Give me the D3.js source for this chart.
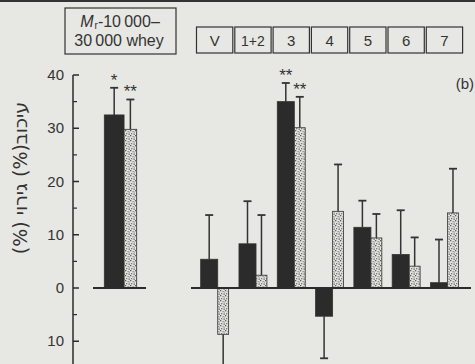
<!DOCTYPE html>
<html>
<head>
<meta charset="utf-8">
<script src="https://cdn.jsdelivr.net/npm/d3@7.9.0/dist/d3.min.js"></script>
<style>
  body { margin: 0; background: #e7e7e4; }
  svg { display: block; font-family: "Liberation Sans", Arial, sans-serif; }
</style>
</head>
<body>
<svg width="475" height="364"></svg>
<script>
// fractions
const groups = ['V', '1+2', '3', '4', '5', '6', '7'];
const darkVals = [5.4, 8.3, 35.0, -5.3, 11.4, 6.3, 1.0];
const darkErr = [8.3, 8.0, 3.5, 7.9, 5.0, 8.3, 8.1];
const dotVals = [-8.7, 2.4, 30.1, 14.4, 9.4, 4.1, 14.1];
const dotErr = [8.0, 11.3, 5.8, 8.8, 4.5, 5.4, 8.3];
const darkStars = ['', '', '**', '', '', '', ''];
const dotStars = ['', '', '**', '', '', '', ''];

// whey (Mr 10000-30000)
const wheyVals = [32.5, 29.8];
const wheyErr = [5.1, 5.6];
const wheyStars = ['*', '**'];

const yTicks = [-10, 0, 10, 20, 30, 40];
const yMinor = [-5, 5, 15, 25, 35];

const svg = d3.select('svg');
const ink = '#2b2b2b';

// speckled fill for the second series
const defs = svg.append('defs');
const pat = defs.append('pattern')
    .attr('id', 'speck')
    .attr('patternUnits', 'userSpaceOnUse')
    .attr('width', 5).attr('height', 5);
pat.append('rect').attr('width', 5).attr('height', 5).attr('fill', '#e4e4e0');
[[0, 0, '#5a5a5a'], [2.5, 1, '#8a8a8a'], [1, 3, '#777'], [3.5, 3.5, '#5f5f5f'], [4, 1.5, '#aaa']].forEach(([px, py, c]) => {
    pat.append('rect').attr('x', px).attr('y', py).attr('width', 1.3).attr('height', 1.3).attr('fill', c);
});

// top rule
svg.append('rect').attr('x', 0).attr('y', 0).attr('width', 475).attr('height', 2).attr('fill', '#333');

const y = d3.scaleLinear().domain([0, 40]).range([288, 75]);

// y axis
const axisX = 73;
svg.append('line')
    .attr('x1', axisX).attr('x2', axisX)
    .attr('y1', y(40)).attr('y2', 364)
    .attr('stroke', ink).attr('stroke-width', 1.5);

svg.selectAll('.tick')
    .data(yTicks)
    .join('line')
    .attr('x1', axisX).attr('x2', axisX + 6)
    .attr('y1', d => y(d)).attr('y2', d => y(d))
    .attr('stroke', ink).attr('stroke-width', 1.5);

svg.selectAll('.minor')
    .data(yMinor)
    .join('line')
    .attr('x1', axisX).attr('x2', axisX + 4)
    .attr('y1', d => y(d)).attr('y2', d => y(d))
    .attr('stroke', ink).attr('stroke-width', 1.2);

svg.selectAll('.tlabel')
    .data(yTicks)
    .join('text')
    .attr('x', axisX - 9)
    .attr('y', d => y(d) + 5)
    .attr('text-anchor', 'end')
    .attr('font-size', 15)
    .attr('fill', '#333')
    .text(d => Math.abs(d));

// y label (rotated)
svg.append('text')
    .attr('transform', 'translate(27,178) rotate(-90)')
    .attr('text-anchor', 'middle')
    .attr('font-family', '"DejaVu Sans", "Liberation Sans", sans-serif')
    .attr('font-size', 19)
    .attr('fill', '#333')
    .attr('direction', 'rtl')
    .text('עיכוב(%) גירוי (%)');

// x scales
const x = d3.scaleBand()
    .domain(groups)
    .range([195.5, 463.6])
    .paddingInner(0.27)
    .paddingOuter(0.135);

const xw = d3.scaleBand()
    .domain(['whey'])
    .range([93.5, 147.5])
    .paddingInner(0.25)
    .paddingOuter(0.25);

function drawPair(x0, bw, vals, errs, stars) {
    const wDark = bw * 0.61;
    const wDot = bw - wDark;
    const parts = [
        { x: x0, w: wDark, v: vals[0], e: errs[0], s: stars[0], fill: ink },
        { x: x0 + wDark, w: wDot, v: vals[1], e: errs[1], s: stars[1], fill: 'url(#speck)' }
    ];
    parts.forEach(p => {
        const cx = p.x + p.w / 2;
        const tip = p.v >= 0 ? p.v + p.e : p.v - p.e;
        svg.append('line')
            .attr('x1', cx).attr('x2', cx)
            .attr('y1', y(p.v)).attr('y2', y(tip))
            .attr('stroke', '#333').attr('stroke-width', 1.5);
        svg.append('line')
            .attr('x1', cx - 4).attr('x2', cx + 4)
            .attr('y1', y(tip)).attr('y2', y(tip))
            .attr('stroke', '#333').attr('stroke-width', 1.8);
        svg.append('rect')
            .attr('x', p.x)
            .attr('y', y(Math.max(0, p.v)))
            .attr('width', p.w)
            .attr('height', Math.abs(y(p.v) - y(0)))
            .attr('fill', p.fill)
            .attr('stroke', '#333')
            .attr('stroke-width', 0.8);
        if (p.s) {
            svg.append('text')
                .attr('x', cx)
                .attr('y', y(tip) - 2)
                .attr('text-anchor', 'middle')
                .attr('font-size', 17)
                .attr('fill', '#333')
                .text(p.s);
        }
    });
}

// whey group
drawPair(xw('whey'), xw.bandwidth(), wheyVals, wheyErr, wheyStars);

// fraction groups
groups.forEach((g, i) => {
    drawPair(x(g), x.bandwidth(), [darkVals[i], dotVals[i]], [darkErr[i], dotErr[i]], [darkStars[i], dotStars[i]]);
});

// baselines
svg.append('line')
    .attr('x1', 93).attr('x2', 146)
    .attr('y1', y(0)).attr('y2', y(0))
    .attr('stroke', ink).attr('stroke-width', 2);
svg.append('line')
    .attr('x1', 191).attr('x2', 471)
    .attr('y1', y(0)).attr('y2', y(0))
    .attr('stroke', ink).attr('stroke-width', 2);

// group boxes
const boxW = x.step() - 2;
svg.selectAll('.gbox')
    .data(groups)
    .join('rect')
    .attr('x', d => x(d) + x.bandwidth() / 2 - boxW / 2)
    .attr('y', 27)
    .attr('width', boxW)
    .attr('height', 26)
    .attr('fill', 'none')
    .attr('stroke', '#333')
    .attr('stroke-width', 1.2);

svg.selectAll('.glabel')
    .data(groups)
    .join('text')
    .attr('x', d => x(d) + x.bandwidth() / 2)
    .attr('y', 46)
    .attr('text-anchor', 'middle')
    .attr('font-size', d => d.length > 1 ? 14 : 15)
    .attr('fill', '#333')
    .text(d => d);

// whey box
svg.append('rect')
    .attr('x', 65).attr('y', 8)
    .attr('width', 111).attr('height', 46)
    .attr('fill', 'none')
    .attr('stroke', '#333')
    .attr('stroke-width', 1.2);

const t1 = svg.append('text')
    .attr('x', 120).attr('y', 27)
    .attr('text-anchor', 'middle')
    .attr('font-size', 16)
    .attr('fill', '#333');
t1.append('tspan').attr('font-style', 'italic').text('M');
t1.append('tspan').attr('font-size', 10).attr('dx', 1).attr('dy', 2).text('r');
t1.append('tspan').attr('dy', -2).text('-10\u2009000–');

svg.append('text')
    .attr('x', 119).attr('y', 46)
    .attr('text-anchor', 'middle')
    .attr('font-size', 16)
    .attr('fill', '#333')
    .text('30\u2009000 whey');

svg.append('text')
    .attr('x', 474).attr('y', 89)
    .attr('text-anchor', 'end')
    .attr('font-size', 15)
    .attr('fill', '#333')
    .text('(b)');
</script>
</body>
</html>
